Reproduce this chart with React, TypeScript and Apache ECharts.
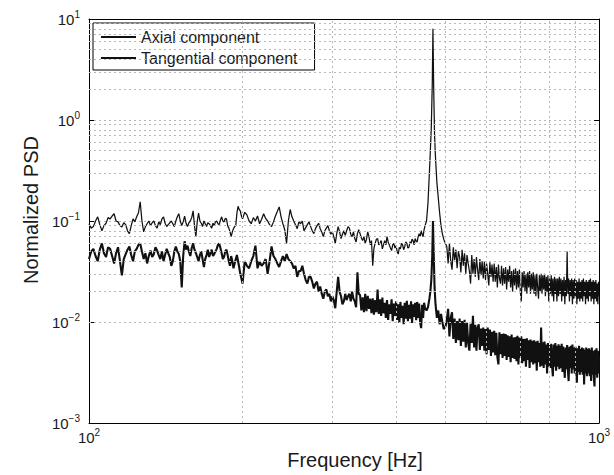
import React, { useEffect, useRef } from "react";
import * as echarts from "echarts";

// Frequency grid (Hz)
const frequencyHz = [
  100, 101, 102, 103, 104, 105, 106, 107, 108, 109,
  110, 111, 112, 113, 114, 115, 116, 117, 118, 119,
  120, 121, 122, 123, 124, 125, 126, 127, 128, 129,
  130, 131, 132, 133, 134, 135, 136, 137, 138, 139,
  140, 141, 142, 143, 144, 145, 146, 147, 148, 149,
  150, 151, 152, 153, 154, 155, 156, 157, 158, 159,
  160, 161, 162, 163, 164, 165, 166, 167, 168, 169,
  170, 171, 172, 173, 174, 175, 176, 177, 178, 179,
  180, 181, 182, 183, 184, 185, 186, 187, 188, 189,
  190, 191, 192, 193, 194, 195, 196, 197, 198, 199,
  200, 202, 204, 206, 208, 210, 212, 214, 216, 218,
  220, 222, 224, 226, 228, 230, 232, 234, 236, 238,
  240, 242, 244, 246, 248, 250, 252, 254, 256, 258,
  260, 262, 264, 266, 268, 270, 272, 274, 276, 278,
  280, 282, 284, 286, 288, 290, 292, 294, 296, 298,
  300, 302, 304, 306, 308, 310, 312, 314, 316, 318,
  320, 322, 324, 326, 328, 330, 332, 334, 336, 338,
  340, 342, 344, 346, 348, 350, 352, 354, 356, 358,
  360, 362, 364, 366, 368, 370, 372, 374, 376, 378,
  380, 382, 384, 386, 388, 390, 392, 394, 396, 398,
  400, 402, 404, 406, 408, 410, 412, 414, 416, 418,
  420, 422, 424, 426, 428, 430, 432, 434, 436, 438,
  440, 442, 444, 446, 448, 450, 452, 454, 456,
  459, 462, 465, 467, 469, 471, 472.5, 474, 476, 478, 481, 484, 487, 490, 493, 496, 500,
  503, 506, 509, 512, 515, 518, 521, 524, 527, 530,
  533, 536, 539, 542, 545, 548, 551, 554, 557, 560,
  563, 566, 569, 572, 575, 578, 581, 584, 587, 590,
  593, 596, 599, 602, 605, 608, 611, 614, 617, 620,
  623, 626, 629, 632, 635, 638, 641, 644, 647, 650,
  653, 656, 659, 662, 665, 668, 671, 674, 677, 680,
  683, 686, 689, 692, 695, 698, 701, 704, 707, 710,
  713, 716, 719, 722, 725, 728, 731, 734, 737, 740,
  743, 746, 749, 752, 755, 758, 761, 764, 767, 770,
  773, 776, 779, 782, 785, 788, 791, 794, 797, 800,
  803, 806, 809, 812, 815, 818, 821, 824, 827, 830,
  833, 836, 839, 842, 845, 848, 851, 854, 857, 860,
  863, 866, 869, 872, 875, 878, 881, 884, 887, 890,
  893, 896, 899, 902, 905, 908, 911, 914, 917, 920,
  923, 926, 929, 932, 935, 938, 941, 944, 947, 950,
  953, 956, 959, 962, 965, 968, 971, 974, 977, 980,
  983, 986, 989, 992, 995, 998, 1000,
];

const tangentialPSD = [
  0.094, 0.085, 0.088, 0.1, 0.11, 0.092, 0.08, 0.09, 0.095, 0.108,
  0.105, 0.112, 0.118, 0.1, 0.098, 0.09, 0.087, 0.096, 0.092, 0.08,
  0.075, 0.09, 0.105, 0.098, 0.11, 0.12, 0.155, 0.1, 0.078, 0.088,
  0.094, 0.1, 0.09, 0.096, 0.1, 0.09, 0.085, 0.098, 0.092, 0.105,
  0.11, 0.095, 0.088, 0.092, 0.096, 0.1, 0.094, 0.088, 0.1, 0.11,
  0.118, 0.1, 0.09, 0.098, 0.112, 0.095, 0.088, 0.096, 0.1, 0.108,
  0.126, 0.09, 0.07, 0.098, 0.12, 0.1, 0.095, 0.088, 0.1, 0.094,
  0.088, 0.096, 0.094, 0.09, 0.085, 0.095, 0.09, 0.098, 0.1, 0.094,
  0.092, 0.102, 0.11, 0.1, 0.098, 0.106, 0.105, 0.09, 0.085, 0.078,
  0.07, 0.078, 0.084, 0.088, 0.09, 0.12, 0.14, 0.13, 0.126, 0.112,
  0.105, 0.122, 0.115, 0.1, 0.094, 0.108, 0.1, 0.112, 0.094, 0.104,
  0.118, 0.106, 0.1, 0.092, 0.088, 0.098, 0.112, 0.124, 0.138, 0.11,
  0.094, 0.082, 0.06, 0.1, 0.13, 0.11, 0.1, 0.092, 0.084, 0.098,
  0.094, 0.1, 0.08, 0.086, 0.092, 0.098, 0.088, 0.08, 0.075, 0.084,
  0.09, 0.095, 0.084, 0.078, 0.07, 0.08, 0.085, 0.09, 0.08, 0.074,
  0.078, 0.07, 0.06, 0.075, 0.088, 0.078, 0.067, 0.074, 0.08, 0.072,
  0.08, 0.088, 0.085, 0.074, 0.07, 0.078, 0.067, 0.062, 0.075, 0.082,
  0.075, 0.068, 0.064, 0.07, 0.06, 0.066, 0.078, 0.07, 0.058, 0.064,
  0.036, 0.054, 0.06, 0.066, 0.067, 0.058, 0.06, 0.064, 0.053, 0.058,
  0.064, 0.058, 0.07, 0.062, 0.058, 0.054, 0.051, 0.058, 0.06, 0.054,
  0.057, 0.05, 0.047, 0.055, 0.053, 0.06, 0.058, 0.052, 0.056, 0.062,
  0.06, 0.054, 0.055, 0.062, 0.06, 0.066, 0.064, 0.058, 0.067, 0.063,
  0.062, 0.07, 0.075, 0.07, 0.08, 0.074, 0.07, 0.082, 0.09,
  0.1, 0.15, 0.3, 0.5, 0.85, 2.2, 8, 2.2, 0.7, 0.42, 0.24, 0.17, 0.12, 0.09, 0.075, 0.066, 0.06,
  0.056, 0.038, 0.06, 0.04, 0.033, 0.055, 0.041, 0.052, 0.034, 0.05,
  0.044, 0.031, 0.052, 0.036, 0.048, 0.03, 0.046, 0.038, 0.032, 0.024,
  0.046, 0.03, 0.042, 0.028, 0.044, 0.033, 0.026, 0.042, 0.029, 0.04,
  0.027, 0.04, 0.026, 0.038, 0.03, 0.023, 0.039, 0.028, 0.037, 0.025,
  0.038, 0.025, 0.035, 0.022, 0.037, 0.027, 0.024, 0.036, 0.023, 0.034,
  0.024, 0.035, 0.021, 0.033, 0.025, 0.036, 0.022, 0.032, 0.02, 0.033,
  0.023, 0.034, 0.021, 0.032, 0.022, 0.033, 0.02, 0.016, 0.031, 0.022,
  0.032, 0.02, 0.03, 0.019, 0.031, 0.022, 0.032, 0.019, 0.03, 0.021,
  0.031, 0.019, 0.029, 0.018, 0.03, 0.022, 0.017, 0.029, 0.02, 0.03,
  0.019, 0.029, 0.021, 0.03, 0.018, 0.028, 0.02, 0.029, 0.016, 0.027,
  0.019, 0.029, 0.018, 0.027, 0.016, 0.028, 0.019, 0.027, 0.016, 0.027,
  0.018, 0.028, 0.019, 0.027, 0.016, 0.026, 0.018, 0.028, 0.015, 0.026,
  0.018, 0.05, 0.019, 0.027, 0.016, 0.026, 0.018, 0.027, 0.015, 0.026,
  0.017, 0.027, 0.018, 0.026, 0.015, 0.025, 0.017, 0.027, 0.016, 0.025,
  0.017, 0.026, 0.016, 0.027, 0.018, 0.025, 0.015, 0.026, 0.017, 0.025,
  0.016, 0.026, 0.018, 0.027, 0.016, 0.025, 0.017, 0.026, 0.015, 0.025,
  0.017, 0.026, 0.016, 0.024, 0.015, 0.025, 0.018,
];

const axialPSD = [
  0.042, 0.05, 0.053, 0.045, 0.04, 0.052, 0.06, 0.048, 0.044, 0.055,
  0.053, 0.045, 0.038, 0.048, 0.055, 0.04, 0.029, 0.042, 0.047, 0.052,
  0.056, 0.046, 0.04, 0.05, 0.053, 0.058, 0.06, 0.05, 0.042, 0.048,
  0.038, 0.045, 0.051, 0.044, 0.047, 0.055, 0.051, 0.046, 0.042, 0.05,
  0.04, 0.046, 0.053, 0.048, 0.044, 0.036, 0.04, 0.05, 0.056, 0.05,
  0.047, 0.04, 0.022, 0.045, 0.063, 0.052, 0.057, 0.05, 0.045, 0.054,
  0.06, 0.052, 0.048, 0.044, 0.04, 0.046, 0.05, 0.042, 0.035, 0.042,
  0.046, 0.052, 0.044, 0.048, 0.052, 0.045, 0.047, 0.05, 0.053, 0.058,
  0.06, 0.054, 0.048, 0.042, 0.044, 0.05, 0.052, 0.046, 0.04, 0.036,
  0.045, 0.04, 0.034, 0.038, 0.042, 0.046, 0.04, 0.035, 0.03, 0.027,
  0.024, 0.04, 0.036, 0.034, 0.04, 0.045, 0.057, 0.034, 0.04, 0.036,
  0.038, 0.042, 0.03, 0.04, 0.056, 0.045, 0.042, 0.038, 0.035, 0.04,
  0.045, 0.04, 0.047, 0.042, 0.04, 0.038, 0.034, 0.036, 0.028, 0.032,
  0.032, 0.036, 0.03, 0.026, 0.024, 0.028, 0.028, 0.025, 0.0215, 0.024,
  0.025, 0.02, 0.0225, 0.019, 0.017, 0.02, 0.021, 0.018, 0.019, 0.016,
  0.018, 0.0165, 0.0137, 0.02, 0.028, 0.02, 0.018, 0.015, 0.016, 0.019,
  0.0165, 0.018, 0.019, 0.016, 0.02, 0.017, 0.016, 0.014, 0.031, 0.019,
  0.0185, 0.013, 0.0175, 0.0125, 0.019, 0.0128, 0.0182, 0.0135, 0.017, 0.0122,
  0.0172, 0.0118, 0.0165, 0.0125, 0.021, 0.012, 0.0168, 0.0115, 0.0175, 0.0122,
  0.0155, 0.011, 0.0165, 0.0105, 0.015, 0.012, 0.0168, 0.0102, 0.0152, 0.0115,
  0.016, 0.0105, 0.015, 0.0098, 0.0158, 0.011, 0.0145, 0.0095, 0.0155, 0.0108,
  0.0162, 0.0102, 0.0148, 0.0108, 0.016, 0.0098, 0.015, 0.0112, 0.0155, 0.0104,
  0.0158, 0.011, 0.0152, 0.0098, 0.0087, 0.0148, 0.011, 0.0155, 0.0137,
  0.013, 0.014, 0.017, 0.02, 0.026, 0.045, 0.1, 0.05, 0.022, 0.015, 0.011, 0.013, 0.0095, 0.012, 0.01, 0.0085, 0.009,
  0.0105, 0.0135, 0.0072, 0.011, 0.0125, 0.0068, 0.0108, 0.0062, 0.0102, 0.0066,
  0.0108, 0.0058, 0.0102, 0.0064, 0.0105, 0.0056, 0.0098, 0.0062, 0.0052, 0.0096,
  0.0062, 0.0115, 0.0056, 0.0094, 0.0052, 0.0088, 0.0095, 0.0053, 0.0086, 0.0058,
  0.0088, 0.0052, 0.0085, 0.0048, 0.0088, 0.0053, 0.0084, 0.0046, 0.008, 0.005,
  0.0082, 0.0047, 0.0078, 0.0045, 0.0038, 0.0079, 0.0048, 0.0076, 0.0044, 0.0077,
  0.0046, 0.0076, 0.0042, 0.0074, 0.0045, 0.0072, 0.004, 0.0075, 0.0044, 0.007,
  0.0043, 0.0071, 0.0041, 0.0073, 0.0038, 0.007, 0.0044, 0.0072, 0.0039, 0.0068,
  0.0041, 0.0068, 0.0036, 0.0069, 0.0042, 0.0066, 0.0035, 0.0067, 0.004, 0.0065,
  0.0038, 0.0066, 0.0039, 0.0064, 0.0033, 0.0065, 0.004, 0.0062, 0.0036, 0.0088,
  0.0037, 0.0063, 0.0035, 0.0064, 0.0038, 0.006, 0.0031, 0.0062, 0.0036, 0.0059,
  0.0035, 0.0061, 0.0037, 0.0029, 0.006, 0.0036, 0.0062, 0.0033, 0.0058, 0.0036,
  0.006, 0.0034, 0.0058, 0.0035, 0.0061, 0.0032, 0.0057, 0.0036, 0.0028, 0.0056,
  0.0034, 0.0059, 0.0033, 0.0026, 0.0057, 0.0035, 0.0058, 0.0031, 0.006, 0.0034,
  0.0056, 0.0031, 0.0057, 0.0034, 0.0025, 0.0055, 0.0032, 0.0058, 0.003, 0.0054,
  0.0032, 0.0056, 0.003, 0.0055, 0.0024, 0.0053, 0.0031, 0.0056, 0.0029, 0.0054,
  0.0031, 0.0055, 0.0029, 0.0053, 0.0026, 0.0056, 0.003, 0.0052, 0.0028, 0.0023,
  0.0053, 0.003, 0.0055, 0.0028, 0.0052, 0.0031, 0.0045,
];

const seriesNames = ["Axial component", "Tangential component"];
const xMinorGrid = [200, 300, 400, 500, 600, 700, 800, 900];
const yMinorGrid = [
  0.002, 0.003, 0.004, 0.005, 0.006, 0.007, 0.008, 0.009,
  0.02, 0.03, 0.04, 0.05, 0.06, 0.07, 0.08, 0.09,
  0.2, 0.3, 0.4, 0.5, 0.6, 0.7, 0.8, 0.9,
  2, 3, 4, 5, 6, 7, 8, 9,
];

export default function App() {
  const ref = useRef<HTMLDivElement>(null);
  useEffect(() => {
    const chart = echarts.init(ref.current as HTMLDivElement, null, { renderer: "svg" });
    const font = "'Liberation Sans', Arial, Helvetica, sans-serif";
    const ink = "#1a1a1a";
    const supLabel = (v: number) => {
      const e = Math.round(Math.log10(v));
      return `{b|10}{s|${e < 0 ? "\u2212" + -e : e}}`;
    };
    const rich = {
      b: { fontSize: 15, lineHeight: 20, fontFamily: font, color: ink },
      s: { fontSize: 10, lineHeight: 10, verticalAlign: "top", fontFamily: font, color: ink },
    };
    const gridStyle = { color: "#b8b8b8", type: [2, 3], width: 1 };
    const axisLine = { show: true, lineStyle: { color: "#000", width: 1 } };
    const axisTick = { show: true, inside: true, length: 5, lineStyle: { color: "#000" } };

    chart.setOption({
      animation: false,
      backgroundColor: "#fff",
      grid: { left: 89, right: 15, top: 19, bottom: 50 },
      legend: {
        data: seriesNames,
        orient: "vertical",
        left: 93,
        top: 23,
        itemWidth: 35,
        itemHeight: 12,
        itemGap: 5,
        padding: [6, 17, 4, 7],
        borderColor: "#000",
        borderWidth: 1,
        backgroundColor: "#fff",
        itemStyle: { opacity: 0 },
        textStyle: { fontSize: 16, fontFamily: font, color: ink },
      },
      xAxis: [
        {
          type: "log",
          logBase: 10,
          min: 100,
          max: 1000,
          position: "bottom",
          axisLine,
          axisTick,
          axisLabel: { formatter: supLabel, rich, margin: 4 },
          splitLine: { show: true, lineStyle: gridStyle },
          name: "Frequency [Hz]",
          nameLocation: "middle",
          nameGap: 27,
          nameTextStyle: { fontSize: 20, fontFamily: font, color: ink, padding: [0, 0, 0, 22] },
        },
        {
          type: "log",
          logBase: 10,
          min: 100,
          max: 1000,
          position: "top",
          axisLine,
          axisTick,
          axisLabel: { show: false },
          splitLine: { show: false },
        },
      ],
      yAxis: [
        {
          type: "log",
          logBase: 10,
          min: 0.001,
          max: 10,
          position: "left",
          axisLine,
          axisTick,
          axisLabel: { formatter: supLabel, rich, margin: 9 },
          splitLine: { show: true, lineStyle: gridStyle },
          name: "Normalized PSD",
          nameLocation: "middle",
          nameRotate: 90,
          nameGap: 44,
          nameTextStyle: { fontSize: 20, fontFamily: font, color: ink, padding: [0, 0, 0, 22] },
        },
        {
          type: "log",
          logBase: 10,
          min: 0.001,
          max: 10,
          position: "right",
          axisLine,
          axisTick,
          axisLabel: { show: false },
          splitLine: { show: false },
        },
      ],
      series: [
        {
          type: "line",
          data: [],
          silent: true,
          z: 1,
          markLine: {
            silent: true,
            symbol: "none",
            label: { show: false },
            lineStyle: gridStyle,
            animation: false,
            data: [
              ...xMinorGrid.map((v) => ({ xAxis: v })),
              ...yMinorGrid.map((v) => ({ yAxis: v })),
            ],
          },
        },
        {
          name: seriesNames[0],
          type: "line",
          symbol: "none",
          showSymbol: false,
          z: 3,
          data: frequencyHz.map((f, i) => [f, axialPSD[i]]),
          lineStyle: { color: "#111", width: 2.1 },
          itemStyle: { color: "#111" },
        },
        {
          name: seriesNames[1],
          type: "line",
          symbol: "none",
          showSymbol: false,
          z: 3,
          data: frequencyHz.map((f, i) => [f, tangentialPSD[i]]),
          lineStyle: { color: "#111", width: 1.25 },
          itemStyle: { color: "#111" },
        },
      ],
    });
    return () => chart.dispose();
  }, []);
  return (
    <div
      ref={ref}
      style={{ position: "fixed", left: 0, top: 0, width: 614, height: 475, background: "#fff" }}
    />
  );
}
